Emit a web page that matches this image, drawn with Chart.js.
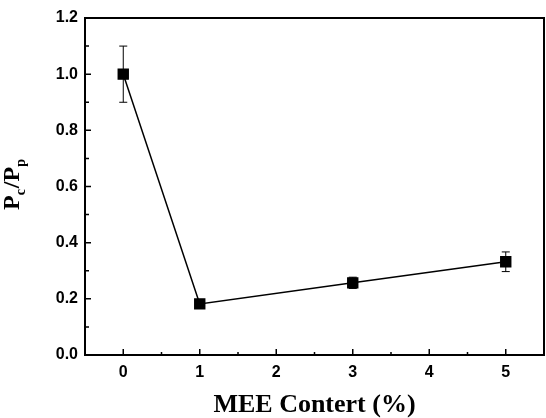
<!DOCTYPE html>
<html>
<head>
<meta charset="utf-8">
<script src="https://cdn.jsdelivr.net/npm/chart.js@4"></script>
<style>
  html, body { margin: 0; padding: 0; background: #fff; }
  #wrap { width: 546px; height: 418px; }
</style>
</head>
<body>
<div id="wrap"><canvas id="MainChart" width="546" height="418"></canvas></div>
<script>
// values
const mee_content = [0, 1, 3, 5];
const pc_pp = [1.0, 0.182, 0.257, 0.332];
const pc_pp_err = [0.1, 0.008, 0.02, 0.035];

const x_ticks = [0, 1, 2, 3, 4, 5];
const x_minor = [0.5, 1.5, 2.5, 3.5, 4.5];
const y_ticks = [0.0, 0.2, 0.4, 0.6, 0.8, 1.0, 1.2];
const y_minor = [0.1, 0.3, 0.5, 0.7, 0.9, 1.1];

const x_title = 'MEE Contert (%)';

// frame, inward ticks, error bars and the y title
const decorations = {
    id: 'decorations',
    afterDatasetsDraw(chart) {
        const ctx = chart.ctx;
        const area = chart.chartArea;
        const xs = chart.scales.x;
        const ys = chart.scales.y;
        ctx.save();

        // error bars
        ctx.strokeStyle = '#000';
        ctx.lineWidth = 1;
        for (let i = 0; i < mee_content.length; i++){
            const px = xs.getPixelForValue(mee_content[i]);
            const top = ys.getPixelForValue(pc_pp[i] + pc_pp_err[i]);
            const bot = ys.getPixelForValue(pc_pp[i] - pc_pp_err[i]);
            ctx.beginPath();
            ctx.moveTo(px, top); ctx.lineTo(px, bot);
            ctx.moveTo(px - 4, top); ctx.lineTo(px + 4, top);
            ctx.moveTo(px - 4, bot); ctx.lineTo(px + 4, bot);
            ctx.stroke();
        }

        // ticks pointing into the plot
        ctx.lineWidth = 1.5;
        ctx.beginPath();
        x_ticks.forEach(v => {
            const px = xs.getPixelForValue(v);
            ctx.moveTo(px, area.bottom); ctx.lineTo(px, area.bottom - 6);
        });
        x_minor.forEach(v => {
            const px = xs.getPixelForValue(v);
            ctx.moveTo(px, area.bottom); ctx.lineTo(px, area.bottom - 3);
        });
        y_ticks.forEach(v => {
            const py = ys.getPixelForValue(v);
            ctx.moveTo(area.left, py); ctx.lineTo(area.left + 6, py);
        });
        y_minor.forEach(v => {
            const py = ys.getPixelForValue(v);
            ctx.moveTo(area.left, py); ctx.lineTo(area.left + 4, py);
        });
        ctx.stroke();

        // box
        ctx.lineWidth = 2;
        ctx.strokeRect(area.left, area.top, area.right - area.left, area.bottom - area.top);

        // y title with subscripts: P_c/P_p
        ctx.translate(19, 210);
        ctx.rotate(-Math.PI / 2);
        ctx.fillStyle = '#000';
        ctx.textBaseline = 'alphabetic';
        ctx.textAlign = 'left';
        const big = 'bold 24px "Liberation Serif", "DejaVu Serif", serif';
        const small = 'bold 14px "Liberation Serif", "DejaVu Serif", serif';
        let cx = 0;
        const parts = [['P', big, 0], ['c', small, 6], ['/', big, 0], ['P', big, 0], ['p', small, 6]];
        parts.forEach(p => {
            ctx.font = p[1];
            ctx.fillText(p[0], cx, p[2]);
            cx += ctx.measureText(p[0]).width + (p[1] === small ? 1 : 0);
        });

        ctx.restore();
    }
};

const ctx = document.getElementById('MainChart').getContext('2d');
const tick_font = { family: '"Liberation Sans", Arial, sans-serif', size: 16, weight: 'bold' };

const chart = new Chart(ctx, {
    type: 'line',
    data: {
        datasets: [
            {
                label: 'Pc/Pp',
                data: mee_content.map((x, i) => ({ x: x, y: pc_pp[i] })),
                borderColor: '#000',
                backgroundColor: '#000',
                borderWidth: 1.5,
                pointStyle: 'rect',
                pointRadius: 7,
                pointHoverRadius: 7,
                fill: false,
                tension: 0
            }
        ]
    },
    options: {
        responsive: false,
        animation: false,
        events: [],
        layout: { autoPadding: false, padding: { top: 18, right: 2, left: 0, bottom: 0 } },
        plugins: {
            legend: { display: false },
            tooltip: { enabled: false }
        },
        scales: {
            x: {
                type: 'linear',
                min: -0.5,
                max: 5.5,
                afterBuildTicks: scale => { scale.ticks = x_ticks.map(v => ({ value: v })); },
                afterFit: scale => {
                    scale.height = 63;
                    scale.paddingLeft = 0;
                    scale.paddingRight = 0;
                },
                grid: { display: false, drawTicks: false },
                border: { display: false },
                ticks: {
                    color: '#000',
                    font: tick_font,
                    padding: 8,
                    maxRotation: 0,
                    callback: v => String(v)
                },
                title: {
                    display: true,
                    text: x_title,
                    color: '#000',
                    font: { family: '"Liberation Serif", "Times New Roman", serif', size: 26, weight: 'bold' },
                    padding: { top: 12, bottom: -3 }
                }
            },
            y: {
                type: 'linear',
                min: 0,
                max: 1.2,
                afterBuildTicks: scale => { scale.ticks = y_ticks.map(v => ({ value: v })); },
                afterFit: scale => {
                    scale.width = 85;
                    scale.paddingTop = 0;
                    scale.paddingBottom = 0;
                },
                grid: { display: false, drawTicks: false },
                border: { display: false },
                ticks: {
                    color: '#000',
                    font: tick_font,
                    padding: 7,
                    callback: v => Number(v).toFixed(1)
                }
            }
        }
    },
    plugins: [decorations]
});
</script>
</body>
</html>
